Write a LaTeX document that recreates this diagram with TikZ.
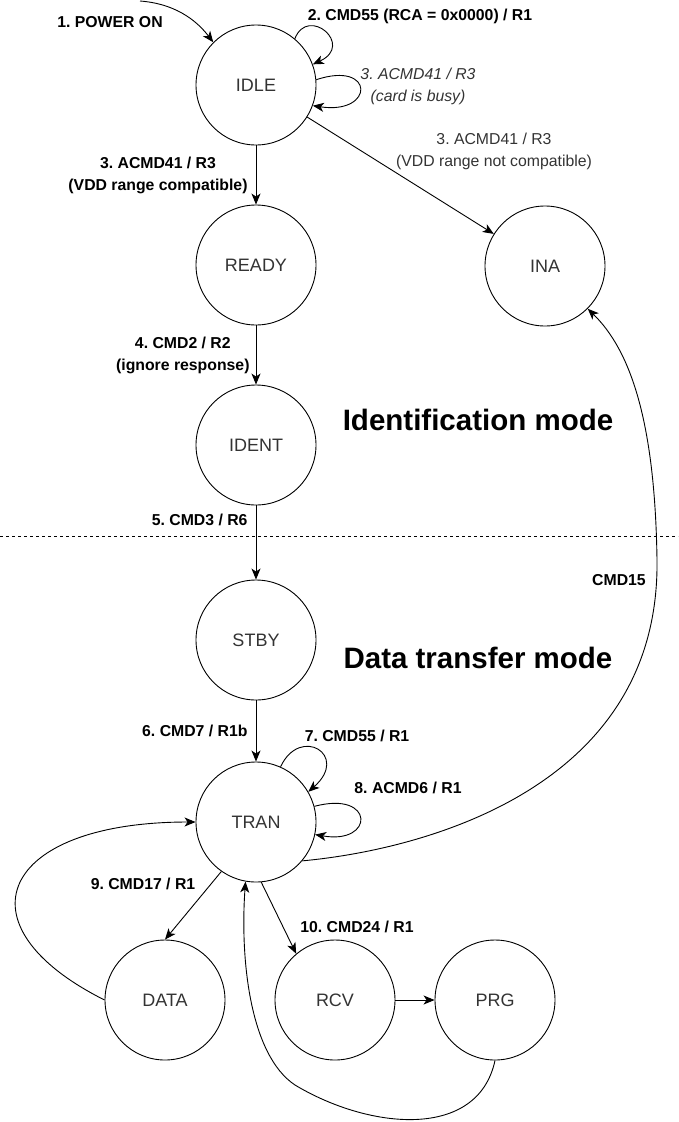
\documentclass[tikz,border=0pt]{standalone}
\usepackage{fontspec}
\setmainfont{Liberation Sans}
\usetikzlibrary{arrows.meta}
\definecolor{textgrey}{HTML}{333333}
\frenchspacing
\begin{document}
\begin{tikzpicture}[
                x=1pt, y=-1pt,
                line width=0.9pt,
                >={Stealth[length=11pt,width=9pt,inset=3pt]},
                state/.style={draw, circle, minimum size=120pt, inner sep=0pt, text=textgrey, font=\fontsize{18}{20}\selectfont},
                lbl/.style={align=center, font=\bfseries\fontsize{15.8}{22}\selectfont},
                greylbl/.style={align=center, text=textgrey, font=\fontsize{15.8}{22}\selectfont},
                mode/.style={font=\bfseries\fontsize{29.5}{30}\selectfont}
            ]

                \useasboundingbox (0,0) rectangle (678,1122);

                \foreach \sym/\x/\y in {IDLE/256/85, READY/256/265, INA/545/266, IDENT/256/445,
                                        STBY/256/640, TRAN/256/822, DATA/165/1000, RCV/335/1000, PRG/495/1000} {
                    \node[state] (\sym) at (\x, \y) {\sym};
                }

                \node[mode] (idmode) at (478, 420) {Identification mode};
                \node[mode] (dtmode) at (478, 658) {Data transfer mode};

                \coordinate (dl) at (0, 536);
                \coordinate (dr) at (678, 536);
                \draw[dashed, line width=0.7pt] (dl) -- (dr);

                \coordinate (start) at (140, 1);
                \node[lbl] (pwr) at (110, 22) {1. POWER ON};
                \draw[->] (start) .. controls (180, 4) and (200, 25) .. (IDLE.135);

                \node[lbl] (l2) at (420, 16) {2. CMD55 (RCA = 0x0000) / R1};
                \draw[->] (IDLE.50) .. controls (308, 5) and (355, 45) .. (IDLE.20);

                \node[greylbl, font=\itshape\fontsize{15.8}{22}\selectfont] (l3b) at (418, 86) {3. ACMD41 / R3\\(card is busy)};
                \draw[->] (IDLE.5) .. controls (375, 60) and (375, 115) .. (IDLE.-20);

                \node[greylbl] (l3c) at (494, 151) {3. ACMD41 / R3\\(VDD range not compatible)};
                \draw[->] (IDLE) -- (INA);

                \draw[->] (IDLE) -- node[lbl, left, inner sep=8pt] {3. ACMD41 / R3\\(VDD range compatible)} (READY);
                \draw[->] (READY) -- node[lbl, left, inner sep=6pt] {4. CMD2 / R2\\(ignore response)} (IDENT);
                \draw[->] (IDENT) -- node[lbl, left, pos=0.2, inner sep=8pt] {5. CMD3 / R6} (STBY);
                \draw[->] (STBY) -- node[lbl, left, inner sep=8pt] {6. CMD7 / R1b} (TRAN);

                \node[lbl] (l7) at (357, 736) {7. CMD55 / R1};
                \draw[->] (TRAN.66) .. controls (300, 725) and (350, 755) .. (TRAN.30);
                \node[lbl] (l8) at (408, 788) {8. ACMD6 / R1};
                \draw[->] (TRAN.15) .. controls (375, 790) and (375, 845) .. (TRAN.-12);

                \node[lbl] (l9) at (143, 884) {9. CMD17 / R1};
                \draw[->] (TRAN.235) -- (DATA.north);
                \node[lbl] (l10) at (357, 927) {10. CMD24 / R1};
                \draw[->] (TRAN.-85) -- (RCV.130);
                \draw[->] (RCV) -- (PRG);

                \draw[->] (DATA.west) .. controls (-45, 925) and (0, 822) .. (TRAN.west);
                \draw[->] (PRG.south) .. controls (478, 1140) and (370, 1130) .. (295, 1085)
                                      .. controls (250, 1055) and (240, 960) .. (TRAN.-100);

                \node[lbl] (l15) at (619, 580) {CMD15};
                \draw[->] (TRAN.-40) .. controls (420, 850) and (660, 790) .. (657, 560)
                                     .. controls (655, 420) and (630, 350) .. (INA.-45);
            \end{tikzpicture}
\end{document}
